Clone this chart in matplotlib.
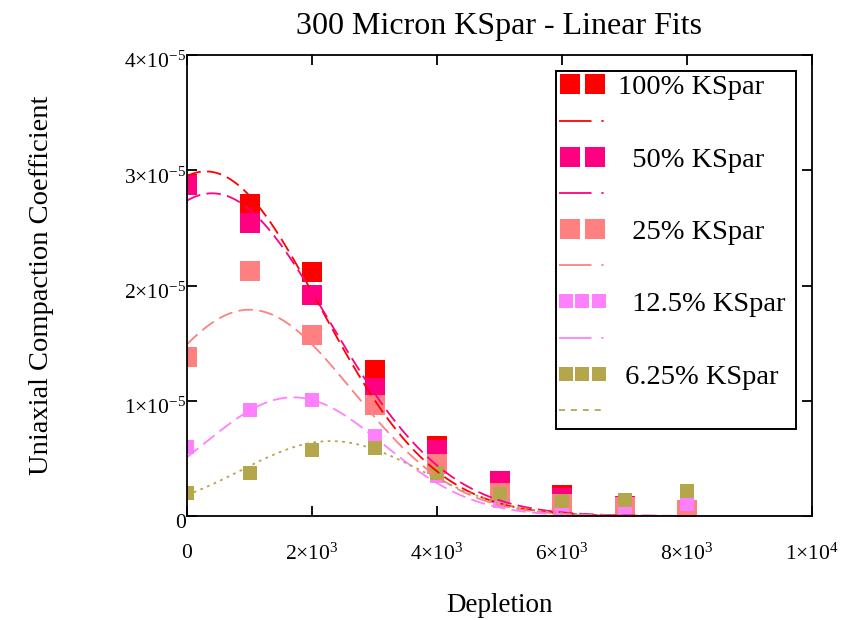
import numpy as np
import matplotlib
matplotlib.use('Agg')
import matplotlib.pyplot as plt
from matplotlib.ticker import FixedLocator, FuncFormatter
from matplotlib.legend_handler import HandlerLine2D
from matplotlib.transforms import ScaledTranslation

plt.rcParams['font.family'] = ['Liberation Serif', 'DejaVu Serif']
plt.rcParams['mathtext.fontset'] = 'custom'
plt.rcParams['mathtext.rm'] = 'Liberation Serif'
plt.rcParams['mathtext.it'] = 'Liberation Serif:italic'

# measured compaction coefficients vs depletion
depletion = [0, 1000, 2000, 3000, 4000, 5000, 6000, 7000, 8000]
ks100 = [2.88e-5, 2.71e-5, 2.12e-5, 1.27e-5, 0.61e-5, 0.30e-5, 0.18e-5, 0.09e-5, 0.03e-5]
ks50 = [2.87e-5, 2.54e-5, 1.92e-5, 1.11e-5, 0.57e-5, 0.30e-5, 0.16e-5, 0.09e-5, 0.03e-5]
ks25 = [1.38e-5, 2.13e-5, 1.57e-5, 0.96e-5, 0.45e-5, 0.20e-5, 0.10e-5, 0.08e-5, 0.05e-5]
ks12 = [0.60e-5, 0.92e-5, 1.01e-5, 0.69e-5, 0.35e-5, 0.13e-5, 0.06e-5, 0.05e-5, 0.10e-5]
ks6 = [0.20e-5, 0.37e-5, 0.57e-5, 0.59e-5, 0.37e-5, 0.19e-5, 0.13e-5, 0.14e-5, 0.22e-5]

labels = ['100% KSpar', '  50% KSpar', '  25% KSpar', '  12.5% KSpar ', ' 6.25% KSpar']
colors = ['#ff0000', '#ff0080', '#ff8080', '#ff80ff', '#b4a64b']

# fit parameters: peak, centre, width
fit_peak = [2.99e-5, 2.80e-5, 1.79e-5, 1.03e-5, 0.65e-5]
fit_centre = [300, 400, 1000, 1700, 2300]
fit_width = [1830, 1870, 1650, 1435, 1445]

series = [ks100, ks50, ks25, ks12, ks6]
msizes = [14.5, 14.5, 14.5, 9.5, 9.5]

xf = np.linspace(0, 10000, 400)

fig = plt.figure(figsize=(8.43, 6.2), dpi=100)
ax = fig.add_axes([187/843, 1-516/620, (812-187)/843, (516-55)/620])

for ys, c, ms in zip(series, colors, msizes):
    ax.plot(depletion, ys, linestyle='none', marker='s', ms=ms, mew=0, color=c)

handles = []
for i, c in enumerate(colors):
    pt, = ax.plot([], [], linestyle='none', marker='s', ms=msizes[i], mew=0, color=c)
    if i < 4:
        ls = (0, (8, 3.5))
        leg_ls = (0, (18, 5.5, 1.2, 9))
    else:
        ls = (0, (1.5, 2.5))
        leg_ls = (0, (3.3, 3.3))
    yfit = fit_peak[i] * np.exp(-(xf - fit_centre[i])**2 / (2 * fit_width[i]**2))
    ax.plot(xf, yfit, color=c, lw=1.3, linestyle=ls)
    ln, = ax.plot([], [], color=c, lw=1.3, linestyle=leg_ls)
    handles += [pt, ln]

leg_labels = []
for lab in labels:
    leg_labels += [lab, '']

hmap = {}
for k in range(5):
    if k < 3:
        hmap[handles[2*k]] = HandlerLine2D(numpoints=2, marker_pad=0.36)
    else:
        hmap[handles[2*k]] = HandlerLine2D(numpoints=3, marker_pad=0.237)
leg = ax.legend(handles, leg_labels, handler_map=hmap, loc='upper left',
                bbox_to_anchor=(556/843, 1-71/620), bbox_transform=fig.transFigure,
                borderaxespad=0, fontsize=20.5, frameon=True, fancybox=False,
                framealpha=1, edgecolor='black', handlelength=1.61,
                handletextpad=0.46, labelspacing=0.36, borderpad=0.12)
leg.get_frame().set_linewidth(1.4)

ax.set_xlim(0, 10000)
ax.set_ylim(0, 4e-5)


def sci(v, pos):
    if v == 0:
        return '0'
    e = int(np.floor(np.log10(abs(v)) + 1e-9))
    m = v / 10**e
    return r'$%d{\times}10^{%d}$' % (round(m), e)


ax.xaxis.set_major_locator(FixedLocator([0, 2000, 4000, 6000, 8000, 10000]))
ax.yaxis.set_major_locator(FixedLocator([0, 1e-5, 2e-5, 3e-5, 4e-5]))
ax.xaxis.set_major_formatter(FuncFormatter(sci))
ax.yaxis.set_major_formatter(FuncFormatter(sci))
ax.tick_params(direction='in', length=7, width=1.3, top=True, right=True,
               labelsize=15.5)
ax.tick_params(axis='x', pad=20)
ax.tick_params(axis='y', pad=1)
for sp in ax.spines.values():
    sp.set_linewidth(1.3)

# y tick labels sit a little below their ticks
shift = ScaledTranslation(0, -5/100, fig.dpi_scale_trans)
for lbl in ax.get_yticklabels():
    lbl.set_transform(lbl.get_transform() + shift)

ax.set_title('300 Micron KSpar - Linear Fits', fontsize=23, pad=15)
ax.set_xlabel('Depletion', fontsize=19.5, labelpad=20)
ax.set_ylabel('Uniaxial Compaction Coefficient', fontsize=20.5, labelpad=50)

plt.savefig('out.png', dpi=100)
